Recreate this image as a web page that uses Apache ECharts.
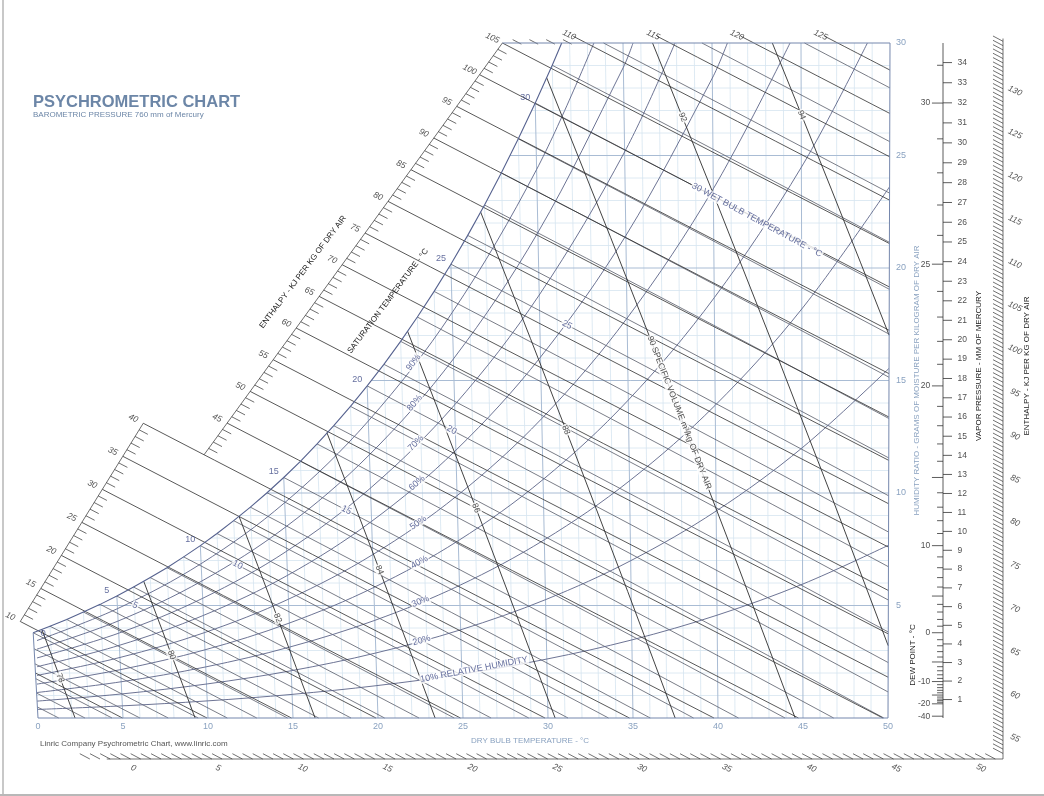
<!DOCTYPE html>
<html>
<head>
<meta charset="utf-8">
<title>Psychrometric Chart</title>
<script src="https://cdn.jsdelivr.net/npm/echarts@6/dist/echarts.min.js"></script>
<style>
html, body { margin: 0; padding: 0; background: #fff; }
#chart { width: 1044px; height: 796px; }
.frameL { position: absolute; left: 2px; top: 0; width: 2px; height: 796px; background: #c8c8c8; }
.frameB { position: absolute; left: 0; top: 794px; width: 1044px; height: 2px; background: #b8b8b8; }
</style>
</head>
<body>
<div id="chart"></div>
<div class="frameL"></div>
<div class="frameB"></div>
<script>
// ---- values ----
var dryBulbTicks = [0, 5, 10, 15, 20, 25, 30, 35, 40, 45, 50];
var humidityTicks = [5, 10, 15, 20, 25, 30];

// saturation humidity ratio (g/kg dry air) by temperature (C)
var satT = [-40, -30, -20, -19, -18, -17, -16, -15, -14, -13, -12, -11, -10, -9, -8, -7, -6, -5, -4, -3, -2, -1,
  0, 1, 2, 3, 4, 5, 6, 7, 8, 9, 10, 11, 12, 13, 14, 15, 16, 17, 18, 19, 20, 21, 22, 23, 24, 25, 26, 27, 28, 29,
  30, 31, 32, 33, 34, 35];
var satW = [0.08, 0.23, 0.63, 0.70, 0.77, 0.84, 0.93, 1.02, 1.12, 1.23, 1.35, 1.48, 1.62, 1.76, 1.92, 2.10, 2.28, 2.49, 2.71, 2.95, 3.21, 3.48,
  3.79, 4.08, 4.38, 4.71, 5.05, 5.42, 5.82, 6.24, 6.68, 7.16, 7.66, 8.20, 8.77, 9.37, 10.01, 10.69, 11.41, 12.18, 12.99, 13.85,
  14.76, 15.72, 16.74, 17.82, 18.96, 20.17, 21.45, 22.80, 24.23, 25.74, 27.33, 29.01, 30.79, 32.67, 34.65, 36.75];

// relative humidity curves, g/kg at rhT
var rhT = [0, 5, 10, 15, 20, 25, 30, 35, 40, 45, 50];
var rh10 = [0.38, 0.54, 0.76, 1.05, 1.44, 1.95, 2.62, 3.47, 4.57, 5.95, 7.68];
var rh20 = [0.75, 1.07, 1.51, 2.10, 2.89, 3.92, 5.26, 6.99, 9.20, 12.01, 15.54];
var rh30 = [1.13, 1.61, 2.27, 3.16, 4.34, 5.89, 7.92, 10.54, 13.90, 18.18, 23.61];
var rh40 = [1.50, 2.15, 3.03, 4.22, 5.80, 7.88, 10.60, 14.13, 18.68, 24.48, 31.88];
var rh50 = [1.88, 2.69, 3.79, 5.28, 7.26, 9.88, 13.31, 17.77, 23.52, 30.91];
var rh60 = [2.26, 3.23, 4.56, 6.34, 8.74, 11.90, 16.04, 21.44, 28.44, 37.46];
var rh70 = [2.64, 3.77, 5.32, 7.41, 10.22, 13.92, 18.80, 25.16, 33.44];
var rh80 = [3.02, 4.31, 6.09, 8.49, 11.70, 15.96, 21.58, 28.92, 38.50];
var rh90 = [3.39, 4.86, 6.86, 9.57, 13.20, 18.02, 24.38, 32.73];
var rhLevels = [10, 20, 30, 40, 50, 60, 70, 80, 90];
var rhRows = [rh10, rh20, rh30, rh40, rh50, rh60, rh70, rh80, rh90];

// specific volume lines: dry bulb where each meets w = 0 and w = 30
var volumeLabels = [78, 80, 82, 84, 86, 88, 90, 92, 94];
var volumeT0 = [2.18, 9.24, 16.30, 23.36, 30.42, 37.48, 44.54, 51.60, 58.66];
var volumeT30 = [-10.49, -3.75, 2.98, 9.71, 16.45, 23.19, 29.92, 36.66, 43.39];

var satLabels = [0, 5, 10, 15, 20, 25, 30];
var wetBulbLabels = [5, 10, 15, 20, 25, 30];
var enthalpyLeft = [10, 15, 20, 25, 30, 35, 40, 45, 50, 55, 60, 65, 70, 75, 80, 85, 90, 95, 100, 105];
var enthalpyTop = [110, 115, 120, 125];
var enthalpyBottom = [0, 5, 10, 15, 20, 25, 30, 35, 40, 45, 50];
var enthalpyRight = [55, 60, 65, 70, 75, 80, 85, 90, 95, 100, 105, 110, 115, 120, 125, 130];
var vaporTicks = [1, 2, 3, 4, 5, 6, 7, 8, 9, 10, 11, 12, 13, 14, 15, 16, 17, 18, 19, 20, 21, 22, 23, 24, 25, 26, 27, 28, 29, 30, 31, 32, 33, 34];
var dewLabels = [30, 25, 20, 10, 0, -10, -20, -40];

// label placement along lines (humidity ratio where the label sits)
var wbLabelW = [5.0, 6.8, 9.24, 12.8, 17.47, 23.7];
var volLabelW = [1.78, 2.8, 4.44, 6.58, 9.33, 12.8, 17.0, 26.7, 26.8];

var FONT = '"Liberation Sans", Arial, Helvetica, sans-serif';
var NAVY = '#3d4a86';
var AXIS_BLUE = '#8aa2c0';

// ---- helpers ----
// dry bulb lines fan out slightly toward the top of this chart
function P(t, w) { return [t + (w / 30) * (0.8 * t - 38) / 17, w]; }
function shift(pt, dx, dy) { return [pt[0] + dx / 17, pt[1] - dy / 22.5]; }
function interp(xs, ys, x) {
  var n = xs.length - 1, i = 1;
  while (i < n && x > xs[i]) i++;
  return ys[i - 1] + (x - xs[i - 1]) * (ys[i] - ys[i - 1]) / (xs[i] - xs[i - 1]);
}
function satAt(t) { return interp(satT, satW, t); }
function dewAt(w) { return interp(satW, satT, w); }
function entT(h, w) { return (h - 2.501 * w) / (1.006 + 0.00186 * w); }
function wbFactor(tw) { return 2.486 - 0.0023 * tw; }
function scaleW(h) { return h <= 40 ? 4.29 + (h - 10) * (13.1 - 4.29) / 30 : 11.7 + (h - 40) * (30 - 11.7) / 65; }
function angleOf(a, b) { return Math.atan2((b[1] - a[1]) * 22.5, (b[0] - a[0]) * 17) * 180 / Math.PI; }
function clipTop(pts) {
  var out = [pts[0]];
  for (var i = 1; i < pts.length; i++) {
    var a = pts[i - 1], b = pts[i];
    if (b[1] > 30) { var f = (30 - a[1]) / (b[1] - a[1]); out.push([a[0] + f * (b[0] - a[0]), 30]); break; }
    out.push(b);
  }
  return out;
}
function linesSeries(list, color, width, z) {
  return {
    type: 'lines', coordinateSystem: 'cartesian2d', polyline: true, silent: true, clip: false, z: z,
    lineStyle: { color: color, width: width, opacity: 1 },
    data: list.map(function (c) { return { coords: c }; })
  };
}
function lab(pt, text, o) {
  o = o || {};
  return {
    value: pt,
    label: {
      show: true, position: 'inside', formatter: text, rotate: o.rotate || 0,
      align: o.align || 'center', verticalAlign: 'middle',
      color: o.color || '#222', fontSize: o.size || 9, fontFamily: FONT,
      fontStyle: o.italic ? 'italic' : 'normal',
      backgroundColor: o.bg || 'transparent', padding: o.bg ? [0, 1] : 0
    }
  };
}

var series = [];

// ---- grid under the saturation curve ----
var minorGrid = [], majorGrid = [];
for (var t = 1; t < 50; t++) {
  var seg = [P(t, 0), P(t, Math.min(satAt(t), 30))];
  (t % 5 === 0 ? majorGrid : minorGrid).push(seg);
}
for (var w = 1; w < 30; w++) {
  var t1 = w <= satAt(0) ? 0 : dewAt(w);
  var seg2 = [P(t1, w), P(50, w)];
  (w % 5 === 0 ? majorGrid : minorGrid).push(seg2);
}
series.push(linesSeries(minorGrid, '#d6e4f0', 0.8, 1));
series.push(linesSeries(majorGrid, '#a9bcd4', 1, 1));

// ---- relative humidity curves ----
rhRows.forEach(function (row) {
  var pts = clipTop(row.map(function (v, i) { return [rhT[i], v]; }));
  series.push({
    type: 'line', silent: true, clip: false, smooth: 0.35, showSymbol: false, z: 2,
    lineStyle: { color: '#5c6488', width: 0.9 },
    data: pts.map(function (p) { return P(p[0], p[1]); })
  });
});

// ---- wet bulb lines ----
var wbLines = [];
for (var tw = -5; tw <= 34; tw++) {
  var ws = satAt(tw), f = wbFactor(tw);
  var tS = tw, wS = ws;
  if (wS > 30) { tS = tw + (ws - 30) * f; wS = 30; }
  if (tS < 0) { tS = 0; wS = ws - (0 - tw) / f; }
  if (wS <= 0 || tS >= 50) continue;
  var tE = tw + ws * f;
  if (tE > 50) tE = 50;
  var pts = [];
  for (var k = 0; k <= 4; k++) {
    var tk = tS + (tE - tS) * k / 4;
    pts.push(P(tk, ws - (tk - tw) / f));
  }
  wbLines.push(pts);
}
series.push(linesSeries(wbLines, '#4e525f', 0.75, 2));

// ---- enthalpy lines and left / top scale ----
var hLines = [], hTicks = [];
for (var h = 5; h <= 125; h += 5) {
  var w0 = h <= 105 ? scaleW(h) : 30;
  if (h < 10) w0 = h / 2.501;
  var w1 = 0;
  if (h / 1.006 > 50) w1 = (h - 50.3) / 2.594;
  var hp = [];
  for (var j = 0; j <= 8; j++) {
    var wj = w0 + (w1 - w0) * j / 8;
    hp.push(P(entT(h, wj), wj));
  }
  if (h > 105) hp.unshift(P(entT(h, 30.3), 30.3));
  hLines.push(hp);
}
for (var hm = 11; hm < 110; hm++) {
  if (hm % 5 === 0) continue;
  var wa = hm < 105 ? scaleW(hm) : 30.15, wb = wa - 0.2;
  hTicks.push([P(entT(hm, wa), wa), P(entT(hm, wb), wb)]);
}
var scaleLow = [], scaleUp = [];
for (var hs = 10; hs <= 40; hs += 5) scaleLow.push(P(entT(hs, scaleW(hs)), scaleW(hs)));
for (var hu = 40.001; hu <= 105.01; hu += 5) scaleUp.push(P(entT(hu, scaleW(hu)), scaleW(hu)));
series.push(linesSeries(hLines, '#2e2e2e', 0.8, 3));
series.push(linesSeries(hTicks.concat([scaleLow, scaleUp]), '#2e2e2e', 0.7, 3));

// ---- specific volume lines ----
function volT(i, w) { return volumeT0[i] + (volumeT30[i] - volumeT0[i]) * w / 30; }
var vLines = [];
volumeLabels.forEach(function (v, i) {
  var wTop = 30;
  for (var ww = 0; ww <= 30; ww += 0.02) { if (volT(i, ww) <= dewAt(ww)) { wTop = ww; break; } }
  var wBot = volumeT0[i] > 50 ? (volumeT0[i] - 50) * 30 / (volumeT0[i] - volumeT30[i]) : 0;
  var pts = [];
  for (var k = 0; k <= 4; k++) {
    var wk = wBot + (wTop - wBot) * k / 4;
    pts.push(P(volT(i, wk), wk));
  }
  vLines.push(pts);
});
series.push(linesSeries(vLines, '#2e2e2e', 0.9, 3));

// ---- saturation curve and chart border ----
var satPts = [];
for (var ts = 0; ts <= 31; ts++) satPts.push(P(ts, satAt(ts)));
satPts.push(P(dewAt(30), 30));
series.push(linesSeries([satPts], '#56628f', 1.1, 4));
var cornerT = entT(105, 30);
series.push(linesSeries([
  [P(0, satAt(0)), P(0, 0), P(50, 0), P(50, 30), P(cornerT, 30)]
], '#7587ad', 1, 4));

// ---- dew point / vapour pressure scale ----
var dewX = (943 - 38) / 17;
var dvTicks = [[[dewX, 0], [dewX, 30]]];
vaporTicks.forEach(function (p) {
  var wv = 622 * p / (760 - p);
  dvTicks.push([[dewX, wv], [dewX + 0.53, wv]]);
});
for (var td = -20; td <= 31; td++) {
  var wd = satAt(td);
  dvTicks.push([[dewX - (td % 5 === 0 ? 0.65 : 0.35), wd], [dewX, wd]]);
}
dvTicks.push([[dewX - 0.65, satAt(-40)], [dewX, satAt(-40)]]);
series.push(linesSeries(dvTicks, '#333', 0.8, 3));

// ---- outer enthalpy scale, bottom and right ----
var rightX = (1003 - 38) / 17, bottomW = -41 / 22.5;
function bottomT(h) { return (h - 2.501 * bottomW) / (1.006 + 0.00186 * bottomW); }
function rightW(h) { return (h - 1.006 * rightX) / (2.501 + 0.00186 * rightX); }
var outer = [[[bottomT(-0.5), bottomW], [rightX, bottomW], [rightX, 30.2]]];
for (var hb = -1.5; bottomT(hb) < rightX - 0.2; hb += 0.6) {
  outer.push([[bottomT(hb), bottomW], [bottomT(hb) - 0.59, bottomW + 0.236]]);
}
for (var hr = 53; rightW(hr) < 30.1; hr += 0.5) {
  outer.push([[rightX, rightW(hr)], [rightX - 0.59, rightW(hr) + 0.236]]);
}
series.push(linesSeries(outer, '#333', 0.7, 3));

// ---- text on the chart ----
var labels = [];
satLabels.forEach(function (t) {
  var p = P(t, satAt(t));
  labels.push(lab(t === 0 ? shift(p, 10, 1) : shift(p, -10, -6), String(t), { color: NAVY, size: 9 }));
});
wetBulbLabels.forEach(function (tw, i) {
  var ws = satAt(tw), f = wbFactor(tw), w = wbLabelW[i];
  var last = i === wetBulbLabels.length - 1;
  labels.push(lab(P(tw + (ws - w) * f, w), last ? '30 WET BULB TEMPERATURE - °C' : String(tw), {
    rotate: angleOf(P(tw, ws), P(tw + ws * f, 0)), align: last ? 'left' : 'center', color: NAVY, size: 9, bg: '#fff'
  }));
});
rhLevels.forEach(function (lv, i) {
  var row = rhRows[i], first = lv === 10, tl = first ? 22.5 : 22.7;
  labels.push(lab(P(tl, interp(rhT, row, tl)), first ? '10% RELATIVE HUMIDITY' : lv + '%', {
    rotate: angleOf(P(20, row[4]), P(25, row[5])) + (first ? 3 : 0), align: first ? 'left' : 'center',
    color: NAVY, size: 9, bg: '#fff'
  }));
});
volumeLabels.forEach(function (v, i) {
  var w = volLabelW[i];
  labels.push(lab(P(volT(i, w), w), v === 90 ? '90 SPECIFIC VOLUME m³/kg OF DRY AIR' : String(v), {
    rotate: angleOf(P(volumeT30[i], 30), P(volumeT0[i], 0)), align: v === 90 ? 'left' : 'center', size: 8.5, bg: '#fff'
  }));
});
enthalpyLeft.forEach(function (h) {
  var w = scaleW(h);
  labels.push(lab(shift(P(entT(h, w), w), -10, -5), String(h), { rotate: -25, italic: true, size: 8.5 }));
});
enthalpyTop.forEach(function (h) {
  labels.push(lab(shift(P(entT(h, 30), 30), -17, -8), String(h), { rotate: -25, italic: true, size: 8.5 }));
});
enthalpyBottom.forEach(function (h) {
  labels.push(lab(shift([bottomT(h), bottomW], 18, 9), String(h), { rotate: -25, italic: true, size: 8.5 }));
});
enthalpyRight.forEach(function (h) {
  labels.push(lab(shift([rightX, rightW(h)], 12, 2), String(h), { rotate: -25, italic: true, size: 8.5 }));
});
vaporTicks.forEach(function (p) {
  labels.push(lab([dewX + 0.85, 622 * p / (760 - p)], String(p), { align: 'left', size: 8.5 }));
});
dewLabels.forEach(function (d) {
  labels.push(lab([dewX - 0.75, satAt(d)], String(d), { align: 'right', size: 8.5 }));
});
series.push({
  type: 'scatter', silent: true, clip: false, symbolSize: 1, z: 6,
  itemStyle: { color: 'rgba(0,0,0,0)' }, data: labels
});

function vText(text, x, y, deg, color) {
  return {
    type: 'text', x: x, y: y, rotation: deg * Math.PI / 180, z: 10,
    style: {
      text: text, fill: color || '#222', font: '8px ' + FONT,
      textAlign: 'center', textVerticalAlign: 'middle', align: 'center', verticalAlign: 'middle'
    }
  };
}

var chart = echarts.init(document.getElementById('chart'));
chart.setOption({
  animation: false,
  backgroundColor: '#fff',
  title: [
    { text: 'PSYCHROMETRIC CHART', left: 33, top: 94, padding: 0,
      textStyle: { fontSize: 16.5, fontWeight: 'bold', color: '#6c86a7', fontFamily: FONT } },
    { text: 'BAROMETRIC PRESSURE 760 mm of Mercury', left: 33, top: 111, padding: 0,
      textStyle: { fontSize: 8, fontWeight: 'normal', color: '#6c86a7', fontFamily: FONT } },
    { text: 'Linric Company Psychrometric Chart, www.linric.com', left: 40, top: 740, padding: 0,
      textStyle: { fontSize: 8, fontWeight: 'normal', color: '#555', fontFamily: FONT } },
    { text: 'DRY BULB TEMPERATURE - °C', left: 471, top: 737, padding: 0,
      textStyle: { fontSize: 8, fontWeight: 'normal', color: AXIS_BLUE, fontFamily: FONT } }
  ],
  grid: { left: 38, right: 156, top: 43, bottom: 78, outerBoundsMode: 'none' },
  xAxis: {
    type: 'value', min: 0, max: 50, interval: 5,
    axisLine: { show: false }, axisTick: { show: false }, splitLine: { show: false },
    axisLabel: { customValues: dryBulbTicks, color: AXIS_BLUE, fontSize: 9, margin: 4, fontFamily: FONT }
  },
  yAxis: {
    type: 'value', position: 'right', min: 0, max: 30, interval: 5,
    axisLine: { show: false }, axisTick: { show: false }, splitLine: { show: false },
    axisLabel: { customValues: humidityTicks, color: AXIS_BLUE, fontSize: 9, margin: 8, fontFamily: FONT },
    name: 'HUMIDITY RATIO - GRAMS OF MOISTURE PER KILOGRAM OF DRY AIR',
    nameLocation: 'middle', nameRotate: 90, nameGap: 25, nameMoveOverlap: false,
    nameTextStyle: { color: AXIS_BLUE, fontSize: 8, fontFamily: FONT }
  },
  graphic: [
    vText('ENTHALPY - KJ PER KG OF DRY AIR', 303, 272, 53),
    vText('SATURATION TEMPERATURE - °C', 388, 301, 53),
    vText('DEW POINT - °C', 913, 655, 90),
    vText('VAPOR PRESSURE - MM OF MERCURY', 979, 366, 90),
    vText('ENTHALPY - KJ PER KG OF DRY AIR', 1027, 366, 90)
  ],
  series: series
});
</script>
</body>
</html>
